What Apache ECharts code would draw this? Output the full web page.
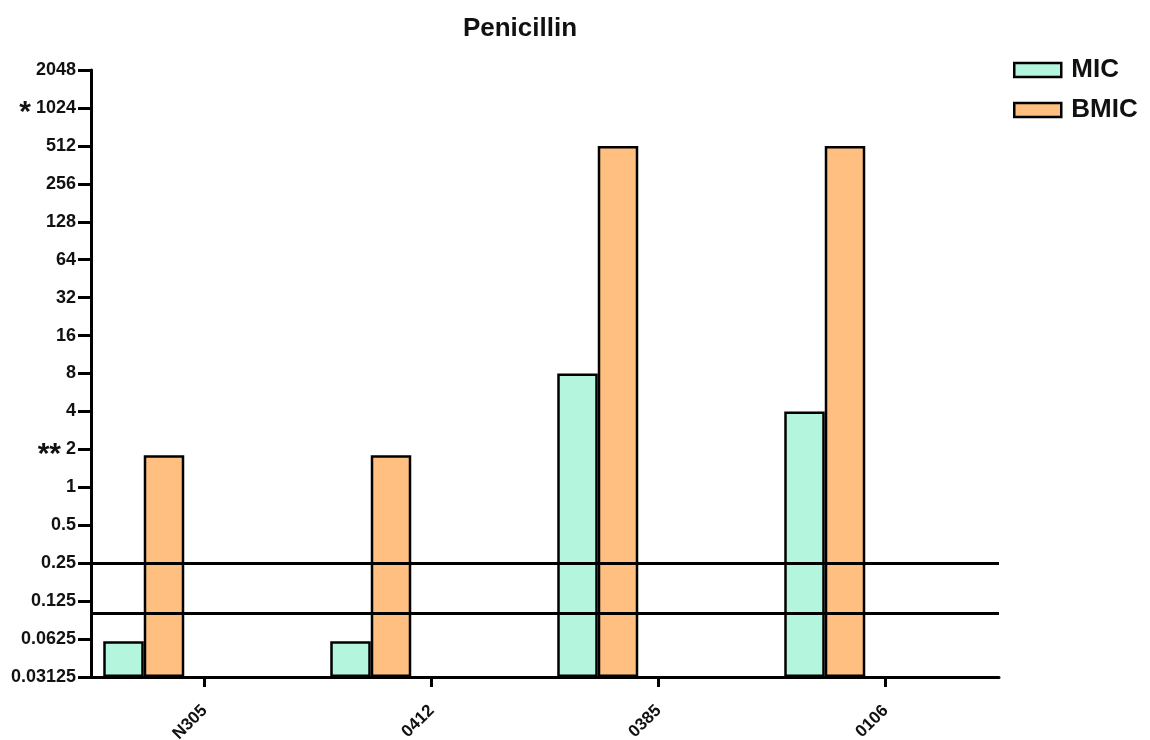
<!DOCTYPE html>
<html>
<head>
<meta charset="utf-8">
<script src="https://cdn.jsdelivr.net/npm/echarts@6/dist/echarts.min.js"></script>
<style>
html,body{margin:0;padding:0;background:#fff;}
#chart{width:1150px;height:740px;}
</style>
</head>
<body>
<div id="chart"></div>
<script>
var title = 'Penicillin';
var categories = ['N305', '0412', '0385', '0106'];
var micValues = [0.06, 0.06, 8, 4];
var bmicValues = [1.8, 1.8, 512, 512];
var yTickLabels = ['0.03125', '0.0625', '0.125', '0.25', '0.5', '1', '2', '4', '8', '16', '32', '64', '128', '256', '512', '1024', '2048'];
var yTickStars = ['', '', '', '', '', '', '**', '', '', '', '', '', '', '', '', '*', ''];
var referenceLines = [0.25, 0.1];

var FONT = 'Arial, "Liberation Sans", sans-serif';
var chart = echarts.init(document.getElementById('chart'), null, {renderer: 'canvas'});

var emptySeries = function () {
  return {type: 'bar', data: [], barWidth: 40.5, barGap: '0%', silent: true};
};

chart.setOption({
  animation: false,
  backgroundColor: '#ffffff',
  title: {
    text: title,
    left: 515, textAlign: 'center', top: 11,
    textStyle: {fontFamily: FONT, fontWeight: 'bold', fontSize: 26, color: '#111'}
  },
  legend: {
    data: ['MIC', 'BMIC'],
    orient: 'vertical',
    left: 1008, top: 52,
    icon: 'rect',
    itemWidth: 47, itemHeight: 14, itemGap: 14,
    itemStyle: {borderColor: '#000', borderWidth: 2.5},
    textStyle: {fontFamily: FONT, fontWeight: 'bold', fontSize: 26, color: '#111', padding: [0, 0, 0, 5]}
  },
  grid: {left: 91, right: 151, top: 70, bottom: 63, containLabel: false, outerBoundsMode: 'none'},
  xAxis: {
    type: 'category',
    data: categories,
    axisLine: {lineStyle: {color: '#000', width: 3}},
    axisTick: {show: true, inside: false, alignWithLabel: true, length: 10, lineStyle: {color: '#000', width: 3}},
    axisLabel: {rotate: 45, margin: 31, fontFamily: FONT, fontWeight: 'bold', fontSize: 17, color: '#111'},
    splitLine: {show: false}
  },
  yAxis: {
    type: 'log',
    logBase: 2,
    min: 0.03125,
    max: 2048,
    interval: 1,
    startValue: 0.03125,
    axisLine: {show: true, lineStyle: {color: '#000', width: 3}},
    axisTick: {show: true, inside: false, length: 13, lineStyle: {color: '#000', width: 3}},
    splitLine: {show: false},
    axisLabel: {
      margin: 15,
      fontFamily: FONT, fontWeight: 'bold', fontSize: 18, color: '#111',
      formatter: function (v) {
        var i = Math.round(Math.log2(v)) + 5;
        var lab = yTickLabels[i] || '';
        var st = yTickStars[i] || '';
        return st ? '{s|' + st + '} ' + lab : lab;
      },
      rich: {
        s: {fontFamily: FONT, fontWeight: 'bold', fontSize: 30, color: '#111', verticalAlign: 'middle', padding: [10, 0, 0, 0]}
      }
    }
  },
  series: [
    {
      name: 'MIC', type: 'bar', data: micValues, barWidth: 40.5, barGap: '0%',
      itemStyle: {color: '#b3f5dd', borderColor: '#000', borderWidth: 2.5},
      markLine: {
        silent: true, symbol: ['none', 'none'],
        label: {show: false},
        lineStyle: {color: '#000', width: 3, type: 'solid'},
        data: referenceLines.map(function (v) { return {yAxis: v}; })
      }
    },
    {
      name: 'BMIC', type: 'bar', data: bmicValues, barWidth: 40.5, barGap: '0%',
      itemStyle: {color: '#ffbf80', borderColor: '#000', borderWidth: 2.5}
    },
    emptySeries(), emptySeries(), emptySeries()
  ]
});
</script>
</body>
</html>
